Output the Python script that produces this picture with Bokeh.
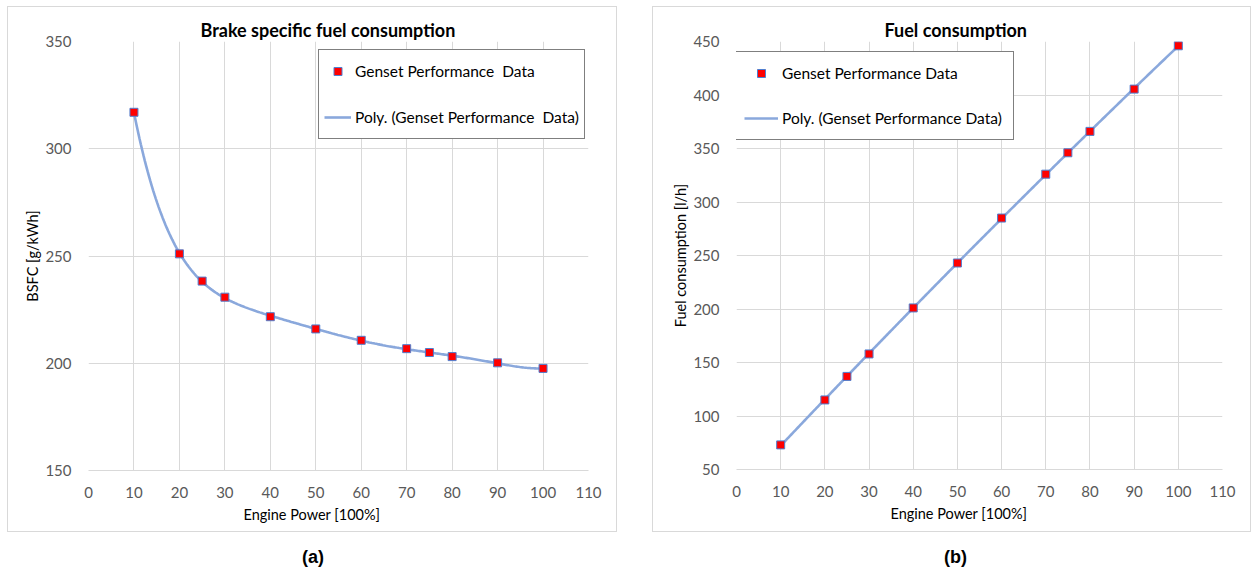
import numpy as np
from bokeh.plotting import figure
from bokeh.models import Range1d, Legend, LegendItem, Title, FixedTicker, Div, Spacer
from bokeh.layouts import row, column
from bokeh.embed import file_html
from bokeh.resources import INLINE

# ---- data ----
power = [10, 20, 25, 30, 40, 50, 60, 70, 75, 80, 90, 100]
bsfc = [317, 251, 238.3, 230.8, 221.7, 216.0, 210.7, 206.8, 205.0, 203.1, 200.2, 197.6]
fuel = [73, 115, 137, 158, 201, 243, 285, 326, 346, 366, 405.5, 446]
x_ticks = [0, 10, 20, 30, 40, 50, 60, 70, 80, 90, 100, 110]
bsfc_ticks = [150, 200, 250, 300, 350]
fuel_ticks = [50, 100, 150, 200, 250, 300, 350, 400, 450]

FONT = "Lato"
GRID = "#d9d9d9"
TICK = "#595959"
LINE = "#8aa8dc"


def trend(xs, ys, deg):
    c = np.polyfit(xs, ys, deg)
    xx = np.linspace(min(xs), max(xs), 300)
    return xx, np.polyval(c, xx)


def make_panel(title, ylabel, ys, yticks, yrange, deg, fw, fh, bl, br, bt, bb,
               title_off, xlab_off, legend_loc, leg_pad, leg_lh, leg_gh, leg_sp, leg_gw, lab1):
    p = figure(frame_width=fw, frame_height=fh, min_border_left=bl, min_border_right=br,
               min_border_top=bt, min_border_bottom=bb,
               x_range=Range1d(0, 110), y_range=Range1d(*yrange),
               output_backend="svg", toolbar_location=None,
               background_fill_color="white", border_fill_color="white",
               styles={"border": "1px solid #d9d9d9", "box-sizing": "border-box"})
    p.outline_line_color = None
    p.title.text = title
    p.title.text_font = FONT
    p.title.text_font_size = "18px"
    p.title.text_font_style = "bold"
    p.title.text_color = "black"
    p.title.align = "left"
    p.title.offset = title_off
    p.title.standoff = 1

    for ax in (p.xaxis[0], p.yaxis[0]):
        ax.major_tick_in = 0
        ax.major_tick_out = 0
        ax.minor_tick_in = 0
        ax.minor_tick_out = 0
        ax.major_label_text_font = FONT
        ax.major_label_text_font_size = "15px"
        ax.major_label_text_color = TICK
    p.xaxis.ticker = FixedTicker(ticks=x_ticks)
    p.yaxis.ticker = FixedTicker(ticks=yticks)
    p.xaxis.axis_line_color = GRID
    p.yaxis.axis_line_color = None
    p.xaxis.major_label_standoff = 16
    p.yaxis.major_label_standoff = 17
    p.yaxis.axis_label = ylabel
    p.yaxis.axis_label_text_font = FONT
    p.yaxis.axis_label_text_font_size = "14.5px"
    p.yaxis.axis_label_text_font_style = "normal"
    p.yaxis.axis_label_text_color = "black"
    p.yaxis.axis_label_standoff = 1

    p.add_layout(Title(text="Engine Power [100%]", align="left", offset=xlab_off,
                       text_font=FONT, text_font_size="14.5px", text_font_style="normal",
                       text_color="black", standoff=7), "below")

    p.xgrid.grid_line_color = GRID
    p.ygrid.grid_line_color = GRID
    p.xgrid.ticker = FixedTicker(ticks=x_ticks)
    p.ygrid.ticker = FixedTicker(ticks=yticks)

    tx, ty = trend(power, ys, deg)
    ln = p.line(tx, ty, line_color=LINE, line_width=2.6)
    sc = p.scatter(power, ys, marker="square", size=8, fill_color="#ff0000",
                   line_color="#4f7fd0", line_width=1)

    leg = Legend(items=[LegendItem(label=lab1, renderers=[sc]),
                        LegendItem(label="Poly. (" + lab1 + ")", renderers=[ln])],
                 location=legend_loc, border_line_color="black", border_line_width=1.5,
                 background_fill_color="white", background_fill_alpha=1,
                 padding=leg_pad, spacing=leg_sp, label_height=leg_lh, glyph_height=leg_gh,
                 glyph_width=leg_gw, label_standoff=4, margin=0,
                 label_text_font=FONT, label_text_font_size="15.5px", label_text_color="black")
    p.add_layout(leg, "center")
    return p


p1 = make_panel("Brake specific fuel consumption", "BSFC [g/kWh]", bsfc, bsfc_ticks,
                (150, 350), 6, 498, 427, 80, 30, 34, 63, 112, 155,
                (230, 331), 5, 32, 20, 14, 27, "Genset Performance  Data")
p2 = make_panel("Fuel consumption", "Fuel consumption [l/h]", fuel, fuel_ticks,
                (50, 450), 2, 484, 426, 83, 30, 33, 65, 148, 154,
                (-4, 329), 11, 20, 20, 25, 34, "Genset Performance Data")

lab_style = {"font-family": "Liberation Sans", "font-weight": "bold", "font-size": "18px",
             "text-align": "center", "color": "black", "padding-top": "8px"}
da = Div(text='<span style="position:relative;left:-3px">(a)</span>', width=608, height=30,
         styles=lab_style)
db = Div(text='<span style="position:relative;left:-8px">(b)</span>', width=597, height=30,
         styles=lab_style)

inner = column(Spacer(height=6), row(p1, p2, spacing=35), row(da, db, spacing=35), spacing=0)
layout = row(Spacer(width=7), inner, spacing=0)
open("out.html", "w").write(file_html(layout, INLINE))
